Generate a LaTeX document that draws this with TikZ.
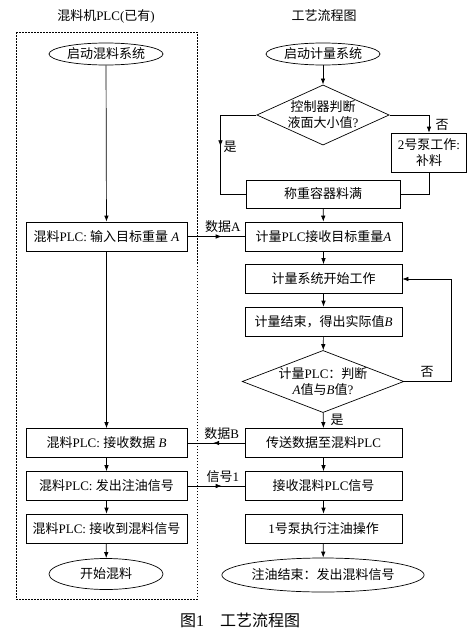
\documentclass[tikz,border=0pt]{standalone}
\usepackage{fontspec}
\setmainfont{Liberation Serif}
\newfontfamily\cjk{Noto Sans CJK SC}
\usetikzlibrary{shapes.geometric,arrows.meta,decorations.markings}
\newcommand\zh[1]{{\cjk #1}}
\tikzset{
  box/.style={draw, line width=0.7pt, minimum width=157pt, minimum height=29pt, inner sep=1pt, align=center},
  oval/.style={draw, ellipse, line width=0.7pt, inner sep=0pt},
  dia/.style={draw, diamond, line width=0.7pt, inner sep=0pt, aspect=2.2, align=center},
  line/.style={line width=0.7pt},
  arr/.style={line width=0.7pt, -{Latex[length=6pt,width=4.5pt]}},
  midarr/.style={line width=0.7pt, postaction={decorate}, decoration={markings, mark=at position #1 with {\arrow{Latex[length=6pt,width=4.5pt]}}}},
  midarr/.default=0.5
}

\begin{document}
\begin{tikzpicture}[x=1pt, y=-1pt, font=\fontsize{13}{16}\selectfont]
		%%%%% START %%%%%
		\useasboundingbox (0,0) rectangle (467,629);
		
		\node (ttlL) at (106,16) {\zh{混料机}PLC(\zh{已有})};
		\node (ttlR) at (324,16) {\zh{工艺流程图}};
		\draw[line width=0.7pt, dash pattern=on 1.5pt off 1.5pt] (16,32) rectangle (197,599);
		
		% mixer PLC
		\node[oval, minimum width=114pt, minimum height=22pt] (startL) at (106,54) {\zh{启动混料系统}};
		\node[box, minimum width=161pt] (inA) at (106.5,236.5) {\zh{混料}PLC: \zh{输入目标重量} \textit{A}};
		\node[box, minimum width=161pt] (recB) at (106.5,443) {\zh{混料}PLC: \zh{接收数据} \textit{B}};
		\node[box, minimum width=161pt] (sendOil) at (106.5,486) {\zh{混料}PLC: \zh{发出注油信号}};
		\node[box, minimum width=161pt] (recMix) at (106.5,528.5) {\zh{混料}PLC: \zh{接收到混料信号}};
		\node[oval, minimum width=114pt, minimum height=31pt] (beginMix) at (106,574) {\zh{开始混料}};
		
		% metering
		\node[oval, minimum width=114pt, minimum height=22pt] (startR) at (323,54) {\zh{启动计量系统}};
		\node[dia] (chkLevel) at (323,115) {\zh{控制器判断}\\\zh{液面大小值}?};
		\node[box, minimum width=75pt, minimum height=39pt] (pump2) at (429,152.5) {2\zh{号泵工作}:\\\zh{补料}};
		\node[box, minimum width=154pt, minimum height=28pt] (full) at (323,194) {\zh{称重容器料满}};
		\node[box] (getA) at (323.5,236.5) {\zh{计量}PLC\zh{接收目标重量}\textit{A}};
		\node[box] (work) at (323.5,279) {\zh{计量系统开始工作}};
		\node[box] (endB) at (323.5,321.5) {\zh{计量结束，得出实际值}\textit{B}};
		\node[dia, aspect=2.6] (cmpAB) at (323,381.5) {\zh{计量}PLC\zh{：判断}\\\textit{A}\zh{值与}\textit{B}\zh{值}?};
		\node[box] (sendB) at (323.5,443) {\zh{传送数据至混料}PLC};
		\node[box] (recSig) at (323.5,486) {\zh{接收混料}PLC\zh{信号}};
		\node[box] (pump1) at (323.5,528.5) {1\zh{号泵执行注油操作}};
		\node[oval, minimum width=180pt, minimum height=34pt] (oilEnd) at (323,575) {\zh{注油结束：发出混料信号}};
		
		\draw[arr] (startL) -- (inA);
		\draw[arr] (inA) -- (recB);
		\draw[arr] (recB) -- (sendOil);
		\draw[arr] (sendOil) -- (recMix);
		\draw[arr] (recMix) -- (beginMix);
		
		\draw[arr] (startR) -- (chkLevel);
		\draw[midarr=0.48] (chkLevel.west) -- ++(-36,0) |- (full.west);
		\draw[arr] (chkLevel.east) -| (pump2.north);
		\draw[line] (pump2.south) |- (full.east);
		\draw[arr] (full) -- (getA);
		\draw[arr] (getA) -- (work);
		\draw[arr] (work) -- (endB);
		\draw[arr] (endB) -- (cmpAB);
		\draw[arr] (cmpAB.east) -- ++(47,0) |- (work.east);
		\draw[arr] (cmpAB) -- (sendB);
		\draw[arr] (sendB) -- (recSig);
		\draw[arr] (recSig) -- (pump1);
		\draw[arr] (pump1) -- (oilEnd);
		
		\draw[midarr=0.6] (inA) -- (getA) node[pos=0.62, above] {\zh{数据}A};
		\draw[midarr=0.55] (sendB) -- (recB) node[pos=0.4, above] {\zh{数据}B};
		\draw[midarr=0.6] (sendOil) -- (recSig) node[pos=0.62, above] {\zh{信号}1};
		
		\node (yes1) at (230,147) {\zh{是}};
		\node (no1) at (442,125) {\zh{否}};
		\node (no2) at (427,372) {\zh{否}};
		\node (yes2) at (337,420) {\zh{是}};
		
		\node (cap) at (240,620) {\fontsize{16}{18}\selectfont\zh{图}1\quad\zh{工艺流程图}};
		%%%%% END %%%%%
\end{tikzpicture}
\end{document}
